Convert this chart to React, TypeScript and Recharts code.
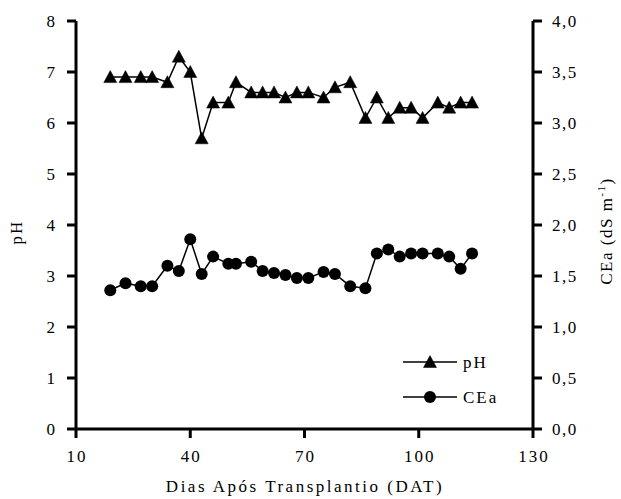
import React from 'react';
import { LineChart, Line, XAxis, YAxis, Legend } from 'recharts';

const dat = [19, 23, 27, 30, 34, 37, 40, 43, 46, 50, 52, 56, 59, 62, 65, 68, 71, 75, 78, 82, 86, 89, 92, 95, 98, 101, 105, 108, 111, 114];
const ph = [6.9, 6.9, 6.9, 6.9, 6.8, 7.3, 7.0, 5.7, 6.4, 6.4, 6.8, 6.6, 6.6, 6.6, 6.5, 6.6, 6.6, 6.5, 6.7, 6.8, 6.1, 6.5, 6.1, 6.3, 6.3, 6.1, 6.4, 6.3, 6.4, 6.4];
const cea = [1.36, 1.43, 1.40, 1.40, 1.60, 1.55, 1.86, 1.52, 1.69, 1.62, 1.62, 1.64, 1.55, 1.53, 1.51, 1.48, 1.48, 1.54, 1.52, 1.40, 1.38, 1.72, 1.76, 1.69, 1.72, 1.72, 1.72, 1.69, 1.57, 1.72];

const xTicks = [10, 40, 70, 100, 130];
const leftTicks = [0, 1, 2, 3, 4, 5, 6, 7, 8];
const rightTicks = [0, 0.5, 1, 1.5, 2, 2.5, 3, 3.5, 4];

const data = dat.map((d, i) => ({ dat: d, ph: ph[i], cea: cea[i] }));

const TXT: React.CSSProperties = { fontFamily: "'Liberation Serif', 'Times New Roman', Times, serif" };

const Tri = (props: any) => {
  const { cx, cy } = props;
  if (cx == null || cy == null) return null;
  return <polygon points={`${cx},${cy - 6.5} ${cx - 6.5},${cy + 5.5} ${cx + 6.5},${cy + 5.5}`} fill="#000" stroke="#000" strokeWidth={0.5} />;
};
const Dot = (props: any) => {
  const { cx, cy } = props;
  if (cx == null || cy == null) return null;
  return <circle cx={cx} cy={cy} r={6} fill="#000" />;
};

const XTick = (props: any) => {
  const { x, y, payload } = props;
  return (
    <text x={x + 1} y={y + 20} textAnchor="middle" style={TXT} fontSize={17} letterSpacing={2} fill="#000">
      {payload.value}
    </text>
  );
};
const LTick = (props: any) => {
  const { x, y, payload } = props;
  return (
    <text x={x} y={y + 6} textAnchor="end" style={TXT} fontSize={17} fill="#000">
      {payload.value}
    </text>
  );
};
const RTick = (props: any) => {
  const { x, y, payload } = props;
  return (
    <text x={x} y={y + 6} textAnchor="start" style={TXT} fontSize={17} letterSpacing={1.5} fill="#000">
      {Number(payload.value).toFixed(1).replace('.', ',')}
    </text>
  );
};

const LegendContent = (props: any) => {
  const payload = [...(props.payload || [])].sort((a: any) => (a.dataKey === 'ph' ? -1 : 1));
  return (
    <svg width={621} height={499} style={{ position: 'absolute', left: 0, top: 0, overflow: 'visible' }}>
      {payload.map((p: any, i: number) => {
        const y = 362 + i * 35;
        const isPh = p.dataKey === 'ph';
        return (
          <g key={i}>
            <line x1={403} x2={457} y1={y} y2={y} stroke="#000" strokeWidth={1.5} />
            {isPh ? <Tri cx={430} cy={y} /> : <Dot cx={430} cy={y} />}
            <text x={463} y={y + 6} style={TXT} fontSize={17} letterSpacing={2} fill="#000">
              {isPh ? 'pH' : 'CEa'}
            </text>
          </g>
        );
      })}
    </svg>
  );
};

export default function App() {
  return (
    <div style={{ width: 621, height: 499, background: '#fff', position: 'relative' }}>
      <style>{'body{margin:0;}'}</style>
      <LineChart width={621} height={499} data={data} margin={{ top: 21, right: 28, bottom: 40, left: 0 }}>
        <XAxis
          dataKey="dat"
          type="number"
          domain={[10, 130]}
          ticks={xTicks}
          axisLine={{ stroke: '#000', strokeWidth: 3 }}
          tickLine={{ stroke: '#000', strokeWidth: 3 }}
          tickSize={9}
          tickMargin={4}
          tick={<XTick />}
          height={30}
          label={() => (
            <text x={305} y={492} textAnchor="middle" style={TXT} fontSize={17} letterSpacing={2.5} fill="#000">
              Dias Após Transplantio (DAT)
            </text>
          )}
        />
        <YAxis
          yAxisId="left"
          domain={[0, 8]}
          ticks={leftTicks}
          width={76}
          axisLine={{ stroke: '#000', strokeWidth: 3 }}
          tickLine={{ stroke: '#000', strokeWidth: 3 }}
          tickSize={9}
          tickMargin={12}
          tick={<LTick />}
          label={() => (
            <text x={22} y={232} transform="rotate(-90 22 232)" textAnchor="middle" style={TXT} fontSize={17} letterSpacing={2} fill="#000">
              pH
            </text>
          )}
        />
        <YAxis
          yAxisId="right"
          orientation="right"
          domain={[0, 4]}
          ticks={rightTicks}
          width={60}
          axisLine={{ stroke: '#000', strokeWidth: 3 }}
          tickLine={{ stroke: '#000', strokeWidth: 3 }}
          tickSize={9}
          tickMargin={10}
          tick={<RTick />}
          label={() => (
            <text x={612} y={231} transform="rotate(-90 612 231)" textAnchor="middle" style={TXT} fontSize={17} letterSpacing={1.5} fill="#000">
              <tspan>CEa (dS m</tspan>
              <tspan dy={-7} fontSize={11}>-1</tspan>
              <tspan dy={7}>)</tspan>
            </text>
          )}
        />
        <Line yAxisId="left" dataKey="ph" stroke="#000" strokeWidth={1.5} dot={<Tri />} isAnimationActive={false} />
        <Line yAxisId="right" dataKey="cea" stroke="#000" strokeWidth={1.5} dot={<Dot />} isAnimationActive={false} />
        <Legend content={<LegendContent />} wrapperStyle={{ position: 'absolute', left: 0, top: 0, width: 0, height: 0, overflow: 'visible', pointerEvents: 'none' }} />
      </LineChart>
    </div>
  );
}
